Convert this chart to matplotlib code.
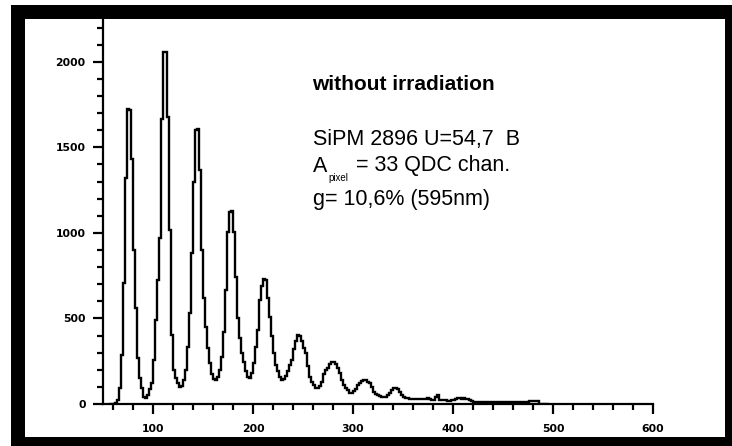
import matplotlib.pyplot as plt
from matplotlib.patches import Rectangle
from matplotlib.ticker import MultipleLocator
import numpy as np

# QDC spectrum, counts per 2-channel bin starting at channel 56
bin_start = 56
bin_width = 2
counts = [
    0, 0, 0, 4, 22, 95, 285, 705, 1318, 1725, 1720, 1430, 900, 560, 270, 150,
    93, 40, 35, 55, 90, 122, 257, 490, 723, 968, 1663, 2060, 2055, 1675, 1015, 402,
    198, 150, 120, 100, 105, 140, 198, 333, 530, 880, 1295, 1600, 1605, 1365, 900, 620,
    450, 330, 240, 175, 145, 140, 160, 200, 274, 420, 665, 1003, 1120, 1125, 1003, 740,
    500, 385, 300, 245, 190, 155, 152, 180, 240, 333, 430, 607, 690, 730, 725, 620,
    508, 400, 298, 230, 190, 160, 140, 145, 165, 195, 230, 257, 320, 370, 402, 400,
    370, 330, 298, 220, 158, 130, 110, 95, 93, 105, 130, 175, 198, 210, 235, 245,
    245, 235, 210, 180, 140, 110, 95, 80, 64, 64, 75, 90, 110, 125, 135, 140,
    140, 130, 120, 100, 70, 60, 55, 45, 41, 41, 41, 50, 65, 80, 93, 93,
    85, 70, 55, 40, 35, 35, 30, 30, 30, 30, 28, 28, 30, 28, 28, 35,
    28, 25, 25, 40, 52, 23, 23, 23, 22, 20, 20, 22, 25, 30, 35, 35,
    30, 35, 32, 30, 25, 15, 12, 12, 12, 12, 12, 12, 12, 12, 12, 12,
    12, 12, 12, 12, 12, 12, 12, 12, 12, 12, 12, 12, 12, 12, 12, 12,
    12, 12, 17, 17, 15, 17, 15, 0, 0, 0, 0, 0,
]
edges = bin_start + bin_width * np.arange(len(counts) + 1)

x_ticks = [100, 200, 300, 400, 500, 600]
y_ticks = [0, 500, 1000, 1500, 2000]

W, H = 732, 446
fig = plt.figure(figsize=(W / 100, H / 100), dpi=100)
ax = fig.add_axes([103 / W, 1 - 404 / H, 550 / W, 385 / H])

ax.stairs(counts, edges, baseline=None, color='black', lw=1.7)

ax.set_xlim(50, 600)
ax.set_ylim(0, 2250)
ax.set_xticks(x_ticks)
ax.set_yticks(y_ticks)
ax.xaxis.set_minor_locator(MultipleLocator(20))
ax.yaxis.set_minor_locator(MultipleLocator(100))
for s in ['top', 'right']:
    ax.spines[s].set_visible(False)
for s in ['left', 'bottom']:
    ax.spines[s].set_linewidth(1.6)
ax.tick_params(which='major', length=7.5, width=1.6, pad=5)
ax.tick_params(axis='x', which='major', pad=7)
ax.tick_params(which='minor', length=4.5, width=1.6)
for lab in ax.get_xticklabels() + ax.get_yticklabels():
    lab.set_fontsize(7.8)
    lab.set_fontweight('bold')
    lab.set_family('DejaVu Sans')

# thick black frame around the picture
frame = [(11, 5, 14, 441), (11, 5, 721, 14), (725, 5, 7, 441), (11, 437, 721, 9)]
for x0, y0, w, h in frame:
    fig.add_artist(Rectangle((x0 / W, 1 - (y0 + h) / H), w / W, h / H,
                             transform=fig.transFigure, color='black', lw=0))

font = 'Liberation Sans'
def put(x, y, s, **kw):
    fig.text(x / W, 1 - y / H, s, va='center', ha='left', family=font, **kw)

put(312, 84, 'without irradiation', fontsize=15, fontweight='bold')
put(313, 140, 'SiPM 2896 U=54,7  B', fontsize=15.5)
put(313, 166, 'A', fontsize=15.5)
put(328, 178, 'pixel', fontsize=7)
put(356, 166, '= 33 QDC chan.', fontsize=15.5)
put(313, 200, 'g= 10,6% (595nm)', fontsize=15.5)

fig.savefig('out.png', dpi=100)
